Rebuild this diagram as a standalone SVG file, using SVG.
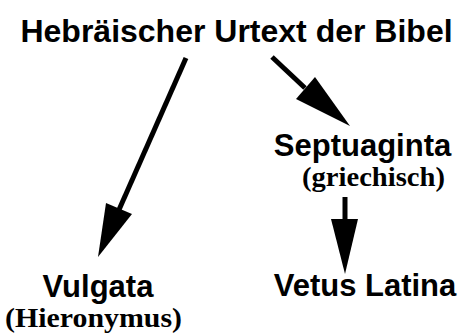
<svg xmlns="http://www.w3.org/2000/svg" width="469" height="335" viewBox="0 0 469 335">
<style>
.t{font-family:"Liberation Sans",Arial,sans-serif;font-weight:bold;font-size:31px;fill:#000;text-anchor:middle}
.h{font-size:32px}
.s{font-family:"Liberation Serif","Times New Roman",serif;font-weight:bold;font-size:28px;fill:#000;text-anchor:middle}
.c{stroke:#000;stroke-width:5;fill:none}
</style>
<rect width="469" height="335" fill="#fff"/>
<g id="urtext"><text class="t h" x="236.5" y="42">Hebräischer Urtext der Bibel</text></g>
<g id="septuaginta"><text class="t" x="362.5" y="156">Septuaginta</text><text class="s" x="373.5" y="186" textLength="143" lengthAdjust="spacingAndGlyphs">(griechisch)</text></g>
<g id="vulgata"><text class="t" x="98" y="297">Vulgata</text><text class="s" x="93.5" y="327" textLength="177" lengthAdjust="spacingAndGlyphs">(Hieronymus)</text></g>
<g id="vetus"><text class="t" x="365" y="296">Vetus Latina</text></g>
<g id="connectors">
<line class="c" x1="186" y1="58" x2="118" y2="212"/>
<polygon points="98,257 106,203 132,214"/>
<line class="c" x1="272" y1="57" x2="305" y2="88"/>
<polygon points="350,126 296,99 315,77"/>
<line class="c" x1="345" y1="197" x2="345" y2="222"/>
<polygon points="345,274 331,219 358,219"/>
</g>
</svg>
